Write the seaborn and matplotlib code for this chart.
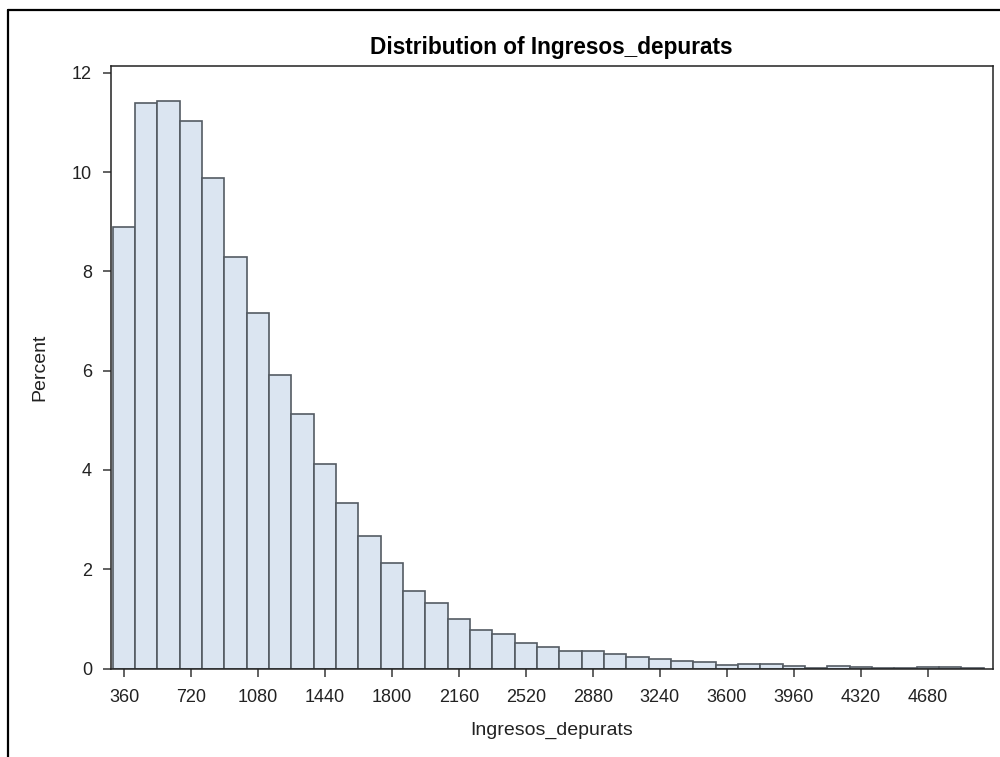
import numpy as np
import pandas as pd
import matplotlib
matplotlib.use("Agg")
import matplotlib.pyplot as plt
import seaborn as sns
from matplotlib.lines import Line2D

# bin midpoints (width 120) and percent per bin
bin_mids = [360, 480, 600, 720, 840, 960, 1080, 1200, 1320, 1440,
            1560, 1680, 1800, 1920, 2040, 2160, 2280, 2400, 2520, 2640,
            2760, 2880, 3000, 3120, 3240, 3360, 3480, 3600, 3720, 3840,
            3960, 4080, 4200, 4320, 4440, 4560, 4680, 4800, 4920]
percent = [8.89, 11.39, 11.43, 11.04, 9.88, 8.30, 7.17, 5.92, 5.12, 4.12,
           3.33, 2.67, 2.13, 1.56, 1.31, 1.00, 0.77, 0.70, 0.52, 0.44,
           0.36, 0.36, 0.30, 0.23, 0.20, 0.16, 0.13, 0.08, 0.10, 0.09,
           0.05, 0.02, 0.06, 0.03, 0.02, 0.01, 0.03, 0.03, 0.015]
bin_width = 120
x_ticks = [360, 720, 1080, 1440, 1800, 2160, 2520, 2880, 3240, 3600, 3960, 4320, 4680]
y_ticks = [0, 2, 4, 6, 8, 10, 12]

sns.set_style("white")
plt.rcParams['font.family'] = ['Liberation Sans', 'DejaVu Sans']

df = pd.DataFrame({"Ingresos_depurats": bin_mids, "Percent": percent})
edges = [m - bin_width / 2 for m in bin_mids] + [bin_mids[-1] + bin_width / 2]

fig = plt.figure(figsize=(10, 7.57), dpi=100)
ax = fig.add_axes([0.1107, 0.1169, 0.8818, 0.7959])

sns.histplot(data=df, x="Ingresos_depurats", weights="Percent", bins=edges,
             stat="count", color="#dbe5f1", edgecolor="#545b63", linewidth=1.2,
             alpha=1, ax=ax)

ax.set_xlim(288.5, 5028)
ax.set_ylim(0, 12.14)
ax.set_xticks(x_ticks)
ax.set_yticks(y_ticks)
ax.tick_params(axis="both", bottom=True, left=True, direction="out", length=5.5,
               width=1.3, color="#555555", labelsize=13, labelcolor="#222222")
ax.tick_params(axis="x", pad=9)
ax.tick_params(axis="y", pad=8)

for s in ax.spines.values():
    s.set_color("#222222")
    s.set_linewidth(1.1)

ax.set_title("Distribution of Ingresos_depurats", fontsize=16.3, fontweight="bold",
             pad=9, color="black")
ax.set_xlabel("Ingresos_depurats", fontsize=14, labelpad=12, color="#222222")
ax.set_ylabel("Percent", fontsize=14, labelpad=17, color="#222222")

# outer frame visible on left and top
y_top = 1 - 9.5 / 757
fig.add_artist(Line2D([8 / 1000, 8 / 1000], [0, y_top], color="black", lw=1.6))
fig.add_artist(Line2D([8 / 1000, 1], [y_top, y_top], color="black", lw=1.6))

fig.savefig("out.png", dpi=100)
